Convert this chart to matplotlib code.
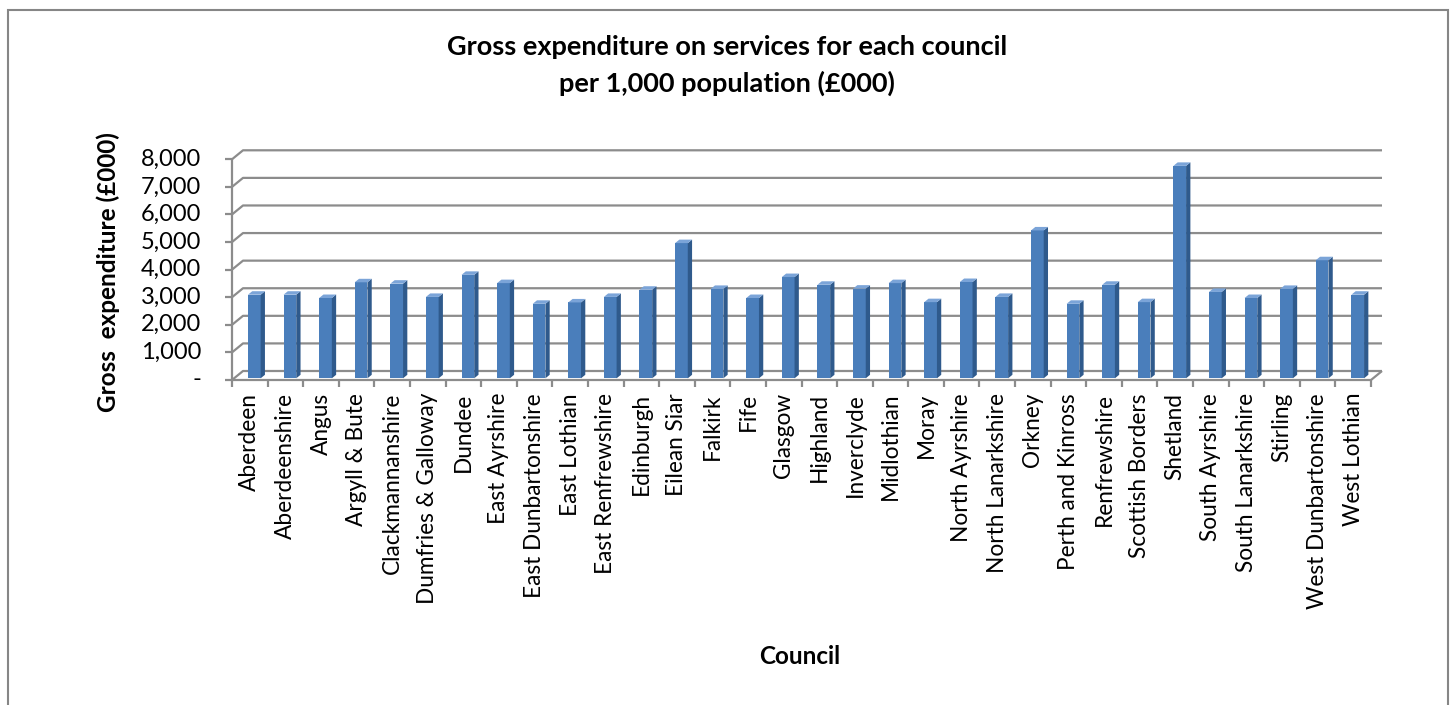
import matplotlib
matplotlib.use("Agg")
import matplotlib.pyplot as plt
from matplotlib.patches import Polygon, Rectangle

councils = [
  "Aberdeen", "Aberdeenshire", "Angus", "Argyll & Bute", "Clackmannanshire",
  "Dumfries & Galloway", "Dundee", "East Ayrshire", "East Dunbartonshire",
  "East Lothian", "East Renfrewshire", "Edinburgh", "Eilean Siar", "Falkirk",
  "Fife", "Glasgow", "Highland", "Inverclyde", "Midlothian", "Moray",
  "North Ayrshire", "North Lanarkshire", "Orkney", "Perth and Kinross",
  "Renfrewshire", "Scottish Borders", "Shetland", "South Ayrshire",
  "South Lanarkshire", "Stirling", "West Dunbartonshire", "West Lothian",
]
expenditure = [
  3030, 3030, 2910, 3480, 3430, 2950, 3750, 3450, 2700, 2750, 2950,
  3210, 4900, 3240, 2910, 3670, 3390, 3250, 3450, 2760, 3490, 2950,
  5360, 2700, 3390, 2760, 7700, 3130, 2910, 3240, 4280, 3030,
]
y_ticks = [0, 1000, 2000, 3000, 4000, 5000, 6000, 7000, 8000]
y_tick_labels = ["-", "1,000", "2,000", "3,000", "4,000", "5,000", "6,000", "7,000", "8,000"]

plt.rcParams["font.family"] = ["Lato", "DejaVu Sans"]

W, H = 1456, 705
fig = plt.figure(figsize=(W / 100, H / 100), dpi=100)

# front plane of the 3d box, in pixels
x0, x1 = 232, 1371
yb, yt = 380, 159.3
ax = fig.add_axes([x0 / W, 1 - yb / H, (x1 - x0) / W, (yb - yt) / H])
n = len(councils)
ax.set_xlim(-0.5, n - 0.5)
ax.set_ylim(0, 8000)
ax.axis("off")

# pixel -> data unit helpers
sx = (x1 - x0) / n
sy = (yb - yt) / 8000
px = lambda p: p / sx
py = lambda p: p / sy

# depth of the box
dx, dy = px(11), py(9)

grid_color = "#8c8c8c"
gkw = dict(color=grid_color, lw=1.6, clip_on=False, solid_capstyle="butt", zorder=1)

for v, lab in zip(y_ticks, y_tick_labels):
  ax.plot([-0.5 - px(7), -0.5], [v, v], **gkw)
  ax.plot([-0.5, -0.5 + dx, n - 0.5 + dx], [v, v + dy, v + dy], **gkw)
  ax.text(-0.5 - px(31), v, lab, ha="right", va="center", fontsize=17)

# front axis line, floor and category ticks
ax.plot([-0.5, -0.5], [0, 8000], **gkw)
ax.plot([-0.5, n - 0.5, n - 0.5 + dx], [0, 0, dy], **gkw)
for i in range(n + 1):
  ax.plot([i - 0.5, i - 0.5], [0, -py(7)], **gkw)

# bars: front face, side face, top face
bw = px(12.7)
shift = px(4.5)
lift = py(1.7)
sdx, sdy = px(4.3), py(3.5)
for i, val in enumerate(expenditure):
  left = i + shift - bw / 2
  right = left + bw
  top = val + lift
  ax.add_patch(Rectangle((left, lift), bw, val, facecolor="#4a7ebb",
                         edgecolor="none", zorder=3, clip_on=False))
  ax.add_patch(Polygon([(right, lift), (right, top), (right + sdx, top + sdy),
                        (right + sdx, lift + sdy)], closed=True,
                       facecolor="#2f5a8c", edgecolor="none", zorder=3, clip_on=False))
  ax.add_patch(Polygon([(left, top), (right, top), (right + sdx, top + sdy),
                        (left + sdx, top + sdy)], closed=True,
                       facecolor="#7ba4d8", edgecolor="none", zorder=3, clip_on=False))
  ax.text(i, -py(13), councils[i], rotation=90, ha="center", va="top", fontsize=16.3)

fig.text(727 / W, 1 - 47 / H, "Gross expenditure on services for each council",
         ha="center", va="center", fontsize=19.5, fontweight="bold")
fig.text(727 / W, 1 - 83 / H, "per 1,000 population (£000)",
         ha="center", va="center", fontsize=19.5, fontweight="bold")
fig.text(108 / W, 1 - 272 / H, "Gross  expenditure (£000)", rotation=90,
         ha="center", va="center", fontsize=17.5, fontweight="bold")
fig.text(800 / W, 1 - 656 / H, "Council", ha="center", va="center", fontsize=17.5, fontweight="bold")

fig.patches.append(Rectangle((8 / W, -0.05), 1440 / W, 1.05 - 10 / H, transform=fig.transFigure,
                             fill=False, edgecolor="#868686", lw=1.5))

fig.savefig("out.png", dpi=100)
